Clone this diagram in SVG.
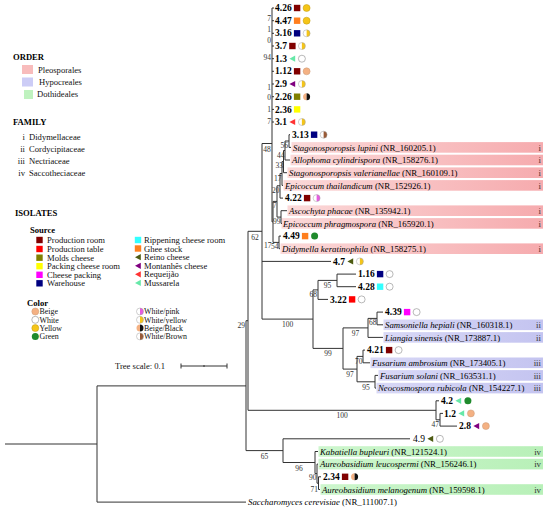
<svg xmlns="http://www.w3.org/2000/svg" width="550" height="509" viewBox="0 0 550 509">
<defs>
<style>
text{font-family:"Liberation Serif","Times New Roman",serif;}
.br{fill:none;stroke:#333;stroke-width:1;}
.iso{font-size:9.5px;font-weight:bold;fill:#000;}
.isr{font-size:9.5px;fill:#000;}
.sp{font-size:8.8px;fill:#000;}
.i{font-style:italic;}
.be{font-size:7.5px;fill:#333;text-anchor:end;}
.bm{font-size:7.5px;fill:#333;text-anchor:middle;}
.fam{font-size:8.8px;fill:#333;text-anchor:end;}
.lg{font-size:8.6px;fill:#111;}
.lc{font-size:7.9px;fill:#111;}
.lh{font-size:8.6px;font-weight:bold;fill:#000;}
.pr{fill:#800000}.pt{fill:#ff0000}.mo{fill:#808000}.pk{fill:#ffff00}.cp{fill:#ff00ff}.wh{fill:#000080}
.ri{fill:#33ffff}.gh{fill:#ff7f1e}.re{fill:#4d5b12}.mt{fill:#800080}.rq{fill:#ff3333}.mu{fill:#66e8a8}
.bP{fill:url(#gP)}.bH{fill:url(#gH)}.bD{fill:url(#gD)}
</style>
<linearGradient id="gP" x1="0" x2="1" y1="0" y2="0"><stop offset="0" stop-color="#fbd9d9"/><stop offset="1" stop-color="#f6abae"/></linearGradient>
<linearGradient id="gH" x1="0" x2="1" y1="0" y2="0"><stop offset="0" stop-color="#d8d8f6"/><stop offset="1" stop-color="#c4c4f0"/></linearGradient>
<linearGradient id="gD" x1="0" x2="1" y1="0" y2="0"><stop offset="0" stop-color="#cdf6cd"/><stop offset="1" stop-color="#b8f0b8"/></linearGradient>
<rect id="sq" x="-3.2" y="-3.2" width="6.4" height="6.4"/>
<path id="tri" d="M2.8,-3.1 L-3,0 L2.8,3.1Z"/>
<g id="cBe"><circle r="3.5" fill="#f4b183" stroke="#c99a78" stroke-width="0.5"/></g>
<g id="cWh"><circle r="3.5" fill="#fff" stroke="#8a8a8a" stroke-width="0.6"/></g>
<g id="cYe"><circle r="3.5" fill="#f5c518" stroke="#bf9a10" stroke-width="0.5"/></g>
<g id="cGr"><circle r="3.5" fill="#1f8a2c"/></g>
<g id="cWY"><path d="M0,-3.5A3.5,3.5 0 0 0 0,3.5Z" fill="#fff"/><path d="M0,-3.5A3.5,3.5 0 0 1 0,3.5Z" fill="#f5c518"/><circle r="3.5" fill="none" stroke="#a0a0a0" stroke-width="0.5"/></g>
<g id="cWP"><path d="M0,-3.5A3.5,3.5 0 0 0 0,3.5Z" fill="#fff"/><path d="M0,-3.5A3.5,3.5 0 0 1 0,3.5Z" fill="#e55ce0"/><circle r="3.5" fill="none" stroke="#a0a0a0" stroke-width="0.5"/></g>
<g id="cBB"><path d="M0,-3.5A3.5,3.5 0 0 0 0,3.5Z" fill="#f4b183"/><path d="M0,-3.5A3.5,3.5 0 0 1 0,3.5Z" fill="#111"/></g>
<g id="cWB"><path d="M0,-3.5A3.5,3.5 0 0 0 0,3.5Z" fill="#fff"/><path d="M0,-3.5A3.5,3.5 0 0 1 0,3.5Z" fill="#9a5a36"/><circle r="3.5" fill="none" stroke="#a0a0a0" stroke-width="0.5"/></g>
</defs>
<rect width="550" height="509" fill="#fff"/>

<g id="legend">
<text class="lh" x="13" y="60">ORDER</text>
<rect x="22" y="65" width="11" height="9" fill="#f8bcbc"/>
<text class="lg" x="38" y="73">Pleosporales</text>
<rect x="22" y="77.5" width="11" height="9" fill="#ccccf6"/>
<text class="lg" x="39" y="85">Hypocreales</text>
<rect x="24" y="90" width="9" height="9" fill="#bff2bf"/>
<text class="lg" x="37" y="97">Dothideales</text>
<text class="lh" x="13" y="125">FAMILY</text>
<text class="lg" x="25" y="140" text-anchor="end">i</text><text class="lg" x="29" y="140">Didymellaceae</text>
<text class="lg" x="25" y="152" text-anchor="end">ii</text><text class="lg" x="29" y="152">Cordycipitaceae</text>
<text class="lg" x="25" y="164" text-anchor="end">iii</text><text class="lg" x="29" y="164">Nectriaceae</text>
<text class="lg" x="25" y="175.5" text-anchor="end">iv</text><text class="lg" x="29" y="175.5">Saccotheciaceae</text>
<text class="lh" x="15" y="216">ISOLATES</text>
<text class="lh" x="30" y="233">Source</text>
<use href="#sq" class="pr" x="39.5" y="240"/><text class="lg" x="47" y="243">Production room</text>
<use href="#sq" class="pt" x="39.5" y="249"/><text class="lg" x="47" y="252">Production table</text>
<use href="#sq" class="mo" x="39.5" y="257.7"/><text class="lg" x="47" y="260.7">Molds cheese</text>
<use href="#sq" class="pk" x="39.5" y="266.2"/><text class="lg" x="47" y="269.2">Packing cheese room</text>
<use href="#sq" class="cp" x="39.5" y="274.8"/><text class="lg" x="47" y="277.8">Cheese packing</text>
<use href="#sq" class="wh" x="39.5" y="283.3"/><text class="lg" x="47" y="286.3">Warehouse</text>
<use href="#sq" class="ri" x="138" y="240"/><text class="lg" x="144" y="243">Rippening cheese room</text>
<use href="#sq" class="gh" x="138" y="248.5"/><text class="lg" x="144" y="251.5">Ghee stock</text>
<use href="#tri" class="re" x="138" y="257.2"/><text class="lg" x="144" y="260.2">Reino cheese</text>
<use href="#tri" class="mt" x="138" y="265.8"/><text class="lg" x="144" y="268.8">Montanhês cheese</text>
<use href="#tri" class="rq" x="138" y="274.3"/><text class="lg" x="144" y="277.3">Requeijão</text>
<use href="#tri" class="mu" x="138" y="282.9"/><text class="lg" x="144" y="285.9">Mussarela</text>
<text class="lh" x="27" y="305.5">Color</text>
<use href="#cBe" x="35.3" y="311.5"/><text class="lc" x="39.5" y="314.3">Beige</text>
<use href="#cWh" x="35.3" y="319.8"/><text class="lc" x="39.5" y="322.6">White</text>
<use href="#cYe" x="35.3" y="328.1"/><text class="lc" x="39.5" y="330.9">Yellow</text>
<use href="#cGr" x="35.3" y="336.4"/><text class="lc" x="39.5" y="339.2">Green</text>
<use href="#cWP" x="140" y="311.5"/><text class="lc" x="144" y="314.3">White/pink</text>
<use href="#cWY" x="140" y="319.8"/><text class="lc" x="144" y="322.6">White/yellow</text>
<use href="#cBB" x="140" y="328.1"/><text class="lc" x="144" y="330.9">Beige/Black</text>
<use href="#cWB" x="140" y="336.4"/><text class="lc" x="144" y="339.2">White/Brown</text>
</g>

<g id="scale">
<text class="lg" x="115" y="369">Tree scale: 0.1</text>
<path class="br" d="M181,366H227M181,363.5V368.5M227,363.5V368.5M204,365V367" stroke-width="0.8"/>
</g>

<g id="highlights">
<rect class="bP" x="291.5" y="142.1" width="251.5" height="10.6"/>
<rect class="bP" x="290.5" y="154.7" width="252.5" height="10.6"/>
<rect class="bP" x="287.5" y="167.4" width="255.5" height="10.6"/>
<rect class="bP" x="283.5" y="180.1" width="259.5" height="10.6"/>
<rect class="bP" x="287.5" y="205.4" width="255.5" height="10.6"/>
<rect class="bP" x="281.5" y="218.1" width="261.5" height="10.6"/>
<rect class="bP" x="280.5" y="243.4" width="262.5" height="10.6"/>
<rect class="bH" x="383.5" y="319.5" width="159.5" height="10.6"/>
<rect class="bH" x="383.5" y="332.1" width="159.5" height="10.6"/>
<rect class="bH" x="370.5" y="357.5" width="172.5" height="10.6"/>
<rect class="bH" x="378.5" y="370.1" width="164.5" height="10.6"/>
<rect class="bH" x="376.5" y="382.8" width="166.5" height="10.6"/>
<rect class="bD" x="318.5" y="446.2" width="224.5" height="10.6"/>
<rect class="bD" x="318.5" y="458.8" width="224.5" height="10.6"/>
<rect class="bD" x="320.5" y="484.2" width="222.5" height="10.6"/>
<text class="fam" x="541" y="150.5">i</text>
<text class="fam" x="541" y="163.1">i</text>
<text class="fam" x="541" y="175.8">i</text>
<text class="fam" x="541" y="188.5">i</text>
<text class="fam" x="541" y="213.8">i</text>
<text class="fam" x="541" y="226.5">i</text>
<text class="fam" x="541" y="251.8">i</text>
<text class="fam" x="541" y="327.9">ii</text>
<text class="fam" x="541" y="340.5">ii</text>
<text class="fam" x="541" y="365.9">iii</text>
<text class="fam" x="541" y="378.5">iii</text>
<text class="fam" x="541" y="391.2">iii</text>
<text class="fam" x="541" y="454.6">iv</text>
<text class="fam" x="541" y="467.2">iv</text>
<text class="fam" x="541" y="492.6">iv</text>
</g>

<g id="connectors">
<path class="br" d="M5,444H97M97,385.9V502.1M97,385.9H246M97,502.1H246
M246,320.7V450.6M246,320.7H248M246,450.6H283
M248,231.3V410.3M248,231.3H262M248,410.3H436
M262,143.5V319.1M262,143.5H272M262,261.4H331M262,319.1H313
M272,8V221.9M272,8H274M272,20.7H274M272,33.3H274M272,46H274M272,58.7H274M272,71.3H274M272,84H274M272,96.7H274M272,109.4H274M272,122H274
M272,221.9H273M273,201.4V242.4M273,201.4H277M273,242.4H279
M279,236.1V248.7M279,236.1H281M279,248.7H280
M277,185.8V217.1M277,185.8H280M277,217.1H281
M281,210.7V223.4M281,210.7H287M281,223.4H282
M280,173.5V198.1M280,173.5H282M280,198.1H283
M282,161.6V185.4M282,161.6H283.5M282,185.4H283
M283.5,150.5V172.7M283.5,150.5H285M283.5,172.7H287
M285,141V160M285,141H289M285,160H290
M289,134.7V147.4M289,134.7H290M289,147.4H291
M313,289.9V348.4M313,289.9H318M318,280.4V299.4M318,280.4H337
M337,274.1V286.7M337,274.1H356M337,286.7H356M318,299.4H328
M313,348.4H343M343,327.9V369.1M343,327.9H368M368,318.4V337.4M368,318.4H377
M377,312.1V324.8M377,312.1H383M377,324.8H383M368,337.4H383
M343,369.1H357M357,356.4V381.8M357,356.4H363M363,350.1V362.8M363,350.1H365M363,362.8H370
M357,381.8H375M375,375.4V388.1M375,375.4H378M375,388.1H376
M436,400.8V419.8M436,400.8H439M436,419.8H440M440,413.4V426.1M440,413.4H443M440,426.1H457
M283,438.8V462.5M283,438.8H410M283,462.5H315M315,451.5V473.6M315,451.5H318M315,473.6H317
M317,464.1V483.2M317,464.1H318M317,483.2H318.5M318.5,476.8V489.5M318.5,476.8H321M318.5,489.5H320"/>
</g>

<g id="support">
<text class="be" x="271" y="21">7</text>
<text class="be" x="271" y="32">1</text>
<text class="be" x="271" y="43">0</text>
<text class="be" x="271" y="60">94</text>
<text class="be" x="271" y="90">1</text>
<text class="be" x="271" y="100">0</text>
<text class="be" x="271" y="112">1</text>
<text class="be" x="271" y="124">7</text>
<text class="bm" x="267" y="151.5">48</text>
<text class="bm" x="255" y="239.5">62</text>
<text class="be" x="245" y="328">29</text>
<text class="be" x="288" y="148">56</text>
<text class="be" x="284.5" y="157.5">44</text>
<text class="be" x="283" y="168">33</text>
<text class="be" x="281.5" y="180.5">17</text>
<text class="be" x="279.5" y="192.5">20</text>
<text class="be" x="276.5" y="208">7</text>
<text class="be" x="280.5" y="224">99</text>
<text class="be" x="271.5" y="247.5">17</text>
<text class="be" x="278.5" y="248.5">54</text>
<text class="bm" x="287.5" y="327">100</text>
<text class="be" x="317" y="297">68</text>
<text class="bm" x="327.5" y="288">95</text>
<text class="bm" x="328" y="356">99</text>
<text class="bm" x="355.5" y="335.5">97</text>
<text class="be" x="376.5" y="325">68</text>
<text class="bm" x="350" y="377">97</text>
<text class="be" x="362.5" y="364">70</text>
<text class="bm" x="366" y="389.5">95</text>
<text class="bm" x="342" y="418">100</text>
<text class="be" x="439" y="426.5">47</text>
<text class="bm" x="264.5" y="458.5">65</text>
<text class="bm" x="299" y="470.5">96</text>
<text class="be" x="316.5" y="480">90</text>
<text class="be" x="318" y="491.5">71</text>
</g>

<g id="n-4-26"><text class="iso" x="275" y="11.1">4.26</text><use href="#sq" class="pr" x="297.1" y="8"/><use href="#cYe" x="306.6" y="8"/></g>
<g id="n-4-47"><text class="iso" x="275" y="23.8">4.47</text><use href="#sq" class="gh" x="297.1" y="20.7"/><use href="#cYe" x="306.6" y="20.7"/></g>
<g id="n-3-16"><text class="iso" x="275" y="36.4">3.16</text><use href="#sq" class="wh" x="297.1" y="33.3"/><use href="#cWY" x="306.6" y="33.3"/></g>
<g id="n-3-7"><text class="iso" x="275" y="49.1">3.7</text><use href="#sq" class="pr" x="292.4" y="46"/><use href="#cWY" x="301.9" y="46"/></g>
<g id="n-1-3"><text class="iso" x="275" y="61.8">1.3</text><use href="#tri" class="mu" x="292.4" y="58.7"/><use href="#cWh" x="301.9" y="58.7"/></g>
<g id="n-1-12"><text class="iso" x="275" y="74.4">1.12</text><use href="#sq" class="pr" x="297.1" y="71.3"/><use href="#cBe" x="306.6" y="71.3"/></g>
<g id="n-2-9"><text class="iso" x="275" y="87.1">2.9</text><use href="#tri" class="mt" x="292.4" y="84"/><use href="#cWY" x="301.9" y="84"/></g>
<g id="n-2-26"><text class="iso" x="275" y="99.8">2.26</text><use href="#sq" class="mo" x="297.1" y="96.7"/><use href="#cBB" x="306.6" y="96.7"/></g>
<g id="n-2-36"><text class="iso" x="275" y="112.5">2.36</text><use href="#sq" class="pk" x="297.1" y="109.4"/></g>
<g id="n-3-1"><text class="iso" x="275" y="125.1">3.1</text><use href="#tri" class="rq" x="292.4" y="122"/><use href="#cWY" x="301.9" y="122"/></g>
<g id="n-3-13"><text class="iso" x="292" y="137.8">3.13</text><use href="#sq" class="wh" x="314.1" y="134.7"/><use href="#cWB" x="323.6" y="134.7"/></g>
<g id="n-s-lupini"><text class="sp" x="293" y="150.5"><tspan class="i">Stagonosporopsis lupini</tspan> (NR_160205.1)</text></g>
<g id="n-allophoma"><text class="sp" x="292" y="163.1"><tspan class="i">Allophoma cylindrispora</tspan> (NR_158276.1)</text></g>
<g id="n-s-valerianellae"><text class="sp" x="289" y="175.8"><tspan class="i">Stagonosporopsis valerianellae</tspan> (NR_160109.1)</text></g>
<g id="n-e-thailandicum"><text class="sp" x="285" y="188.5"><tspan class="i">Epicoccum thailandicum</tspan> (NR_152926.1)</text></g>
<g id="n-4-22"><text class="iso" x="285" y="201.2">4.22</text><use href="#sq" class="pr" x="307.1" y="198.1"/><use href="#cWP" x="316.6" y="198.1"/></g>
<g id="n-ascochyta"><text class="sp" x="289" y="213.8"><tspan class="i">Ascochyta phacae</tspan> (NR_135942.1)</text></g>
<g id="n-e-phragmospora"><text class="sp" x="283" y="226.5"><tspan class="i">Epicoccum phragmospora</tspan> (NR_165920.1)</text></g>
<g id="n-4-49"><text class="iso" x="283" y="239.2">4.49</text><use href="#sq" class="gh" x="305.1" y="236.1"/><use href="#cGr" x="314.6" y="236.1"/></g>
<g id="n-didymella"><text class="sp" x="282" y="251.8"><tspan class="i">Didymella keratinophila</tspan> (NR_158275.1)</text></g>
<g id="n-4-7"><text class="iso" x="333" y="264.5">4.7</text><use href="#tri" class="re" x="350.4" y="261.4"/><use href="#cWY" x="359.9" y="261.4"/></g>
<g id="n-1-16"><text class="iso" x="358" y="277.2">1.16</text><use href="#sq" class="wh" x="380.1" y="274.1"/><use href="#cWh" x="389.6" y="274.1"/></g>
<g id="n-4-28"><text class="iso" x="358" y="289.8">4.28</text><use href="#sq" class="ri" x="380.1" y="286.7"/><use href="#cWh" x="389.6" y="286.7"/></g>
<g id="n-3-22"><text class="iso" x="330" y="302.5">3.22</text><use href="#sq" class="pt" x="352.1" y="299.4"/><use href="#cWh" x="361.6" y="299.4"/></g>
<g id="n-4-39"><text class="iso" x="385" y="315.2">4.39</text><use href="#sq" class="cp" x="407.1" y="312.1"/><use href="#cWh" x="416.6" y="312.1"/></g>
<g id="n-samsoniella"><text class="sp" x="385" y="327.9"><tspan class="i">Samsoniella hepiali</tspan> (NR_160318.1)</text></g>
<g id="n-liangia"><text class="sp" x="385" y="340.5"><tspan class="i">Liangia sinensis</tspan> (NR_173887.1)</text></g>
<g id="n-4-21"><text class="iso" x="367" y="353.2">4.21</text><use href="#sq" class="pr" x="389.1" y="350.1"/><use href="#cWh" x="398.6" y="350.1"/></g>
<g id="n-f-ambrosium"><text class="sp" x="372" y="365.9"><tspan class="i">Fusarium ambrosium</tspan> (NR_173405.1)</text></g>
<g id="n-f-solani"><text class="sp" x="380" y="378.5"><tspan class="i">Fusarium solani</tspan> (NR_163531.1)</text></g>
<g id="n-neocosmospora"><text class="sp" x="378" y="391.2"><tspan class="i">Neocosmospora rubicola</tspan> (NR_154227.1)</text></g>
<g id="n-4-2"><text class="iso" x="441" y="403.9">4.2</text><use href="#tri" class="mu" x="458.4" y="400.8"/><use href="#cGr" x="467.9" y="400.8"/></g>
<g id="n-1-2"><text class="iso" x="444" y="416.5">1.2</text><use href="#tri" class="mu" x="461.4" y="413.4"/><use href="#cBe" x="470.9" y="413.4"/></g>
<g id="n-2-8"><text class="iso" x="459" y="429.2">2.8</text><use href="#tri" class="mt" x="476.4" y="426.1"/><use href="#cBe" x="485.9" y="426.1"/></g>
<g id="n-4-9"><text class="isr" x="413" y="441.9">4.9</text><use href="#tri" class="re" x="430.4" y="438.8"/><use href="#cWh" x="439.9" y="438.8"/></g>
<g id="n-kabatiella"><text class="sp" x="320" y="454.6"><tspan class="i">Kabatiella bupleuri</tspan> (NR_121524.1)</text></g>
<g id="n-a-leucospermi"><text class="sp" x="320" y="467.2"><tspan class="i">Aureobasidium leucospermi</tspan> (NR_156246.1)</text></g>
<g id="n-2-34"><text class="iso" x="323" y="479.9">2.34</text><use href="#sq" class="pr" x="345.1" y="476.8"/><use href="#cBB" x="354.6" y="476.8"/></g>
<g id="n-a-melanogenum"><text class="sp" x="322" y="492.6"><tspan class="i">Aureobasidium melanogenum</tspan> (NR_159598.1)</text></g>
<g id="n-saccharomyces"><text class="sp" x="248" y="505.2"><tspan class="i">Saccharomyces cerevisiae</tspan> (NR_111007.1)</text></g>
</svg>
